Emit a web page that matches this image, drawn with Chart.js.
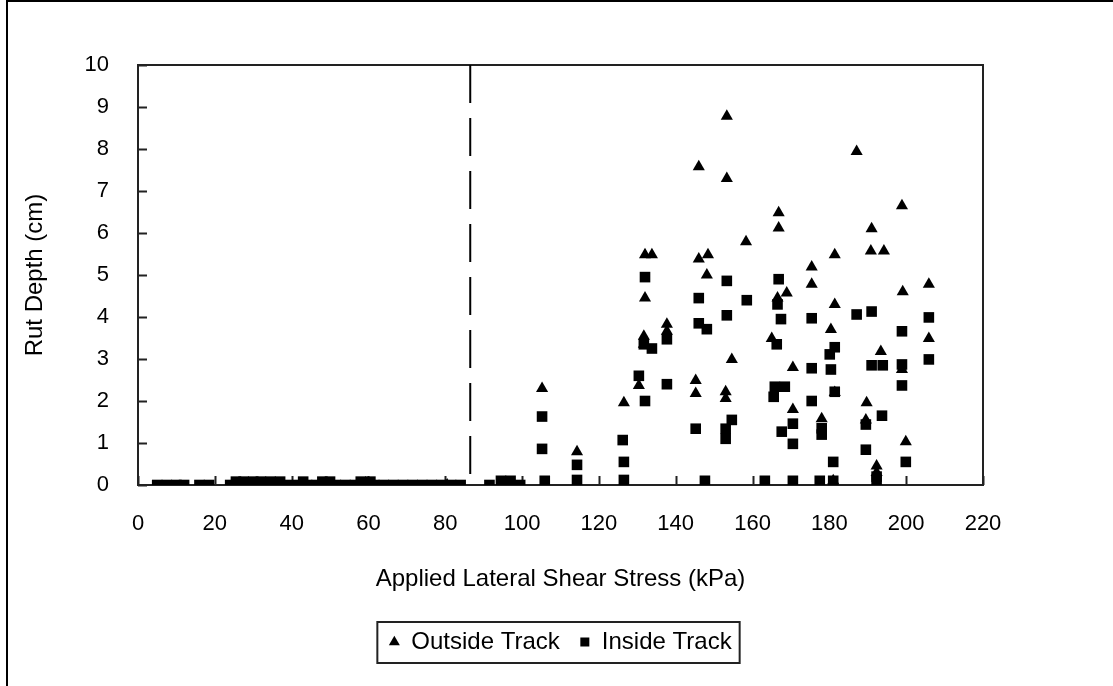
<!DOCTYPE html>
<html>
<head>
<meta charset="utf-8">
<script src="https://cdn.jsdelivr.net/npm/chart.js@4.4.1/dist/chart.umd.min.js"></script>
<style>
  html, body { margin: 0; padding: 0; background: #fff; overflow: hidden; }
  #wrap { position: relative; width: 1113px; height: 686px; }
  #frame { position: absolute; left: 6px; top: 0px; width: 1200px; height: 800px;
           border-left: 2px solid #000; border-top: 2px solid #000; pointer-events: none; }
</style>
</head>
<body>
<div id="wrap">
  <canvas id="grafico" width="1113" height="686"></canvas>
  <div id="frame"></div>
</div>
<script>
// Outside Track (triangles)
const outsideStress = [80.5, 105.2, 114.3, 126.5, 130.4,
  132, 133.8, 132, 131.7, 131.7, 137.7, 137.7,
  146, 153.3, 153.3, 146, 148.4, 148.1, 145.2, 145.2, 153, 153, 154.6,
  158.3, 166.8, 166.8, 168.9, 166.5, 165, 170.5, 170.5,
  175.4, 175.4, 181.4, 181.4, 180.4, 181.4, 178, 181,
  187.1, 191, 190.8, 194.2, 193.4, 189.7, 189.5, 192.3, 192.3,
  198.9, 199.1, 198.9, 199.9, 205.9, 205.9];
const outsideRut = [0, 2.3, 0.79, 1.96, 2.37,
  5.48, 5.48, 4.45, 3.54, 3.35, 3.83, 3.66,
  7.58, 8.78, 7.3, 5.38, 5.48, 5.0, 2.49, 2.18, 2.22, 2.06, 2.99,
  5.79, 6.48, 6.12, 4.57, 4.45, 3.49, 2.8, 1.8,
  5.19, 4.78, 5.48, 4.3, 3.7, 2.2, 1.58, 0.1,
  7.94, 6.1, 5.57, 5.57, 3.18, 1.96, 1.55, 0.45, 0.3,
  6.65, 4.6, 2.75, 1.03, 4.78, 3.49];

// Inside Track (squares)
const insideStress = [5, 7.5, 10, 12, 16, 18.5,
  24, 26.5, 29, 31.5, 34, 36.5, 39, 41.5, 44, 46.5, 49, 51.5, 54, 56.5, 59, 61.5,
  64, 66.5, 69, 71.5, 74, 76.5, 79, 81.5, 84,
  25.5, 27.5, 30, 32, 34.5, 37, 43, 48, 50, 58, 60.5,
  91.5, 94.5, 97, 99.5,
  105.2, 105.2, 105.9, 114.3, 114.3, 126.2, 126.5, 126.5,
  130.4, 132, 137.7, 132, 133.8, 131.7, 137.7,
  146, 146, 148.1, 145.2, 147.6,
  153.3, 153.3, 154.6, 153, 153, 158.5, 163.2,
  166.8, 166.5, 167.4, 166.3, 165.8, 168.4, 165.5, 167.6,
  170.5, 170.5, 170.5, 175.4, 175.4, 175.4, 177.5, 178, 178,
  181.4, 180.1, 180.4, 181.4, 181, 181,
  187.1, 191, 191, 193.9, 193.7, 189.5, 189.5, 192.3, 192.3,
  198.9, 198.9, 198.9, 199.9, 205.9, 205.9];
const insideRut = [0, 0, 0, 0, 0, 0,
  0, 0, 0, 0, 0, 0, 0, 0, 0, 0, 0, 0, 0, 0, 0, 0,
  0, 0, 0, 0, 0, 0, 0, 0, 0,
  0.08, 0.08, 0.08, 0.08, 0.08, 0.08, 0.08, 0.08, 0.08, 0.08, 0.08,
  0, 0.1, 0.1, 0,
  1.63, 0.86, 0.1, 0.48, 0.12, 1.07, 0.55, 0.12,
  2.6, 2.0, 2.4, 4.95, 3.25, 3.35, 3.47,
  4.45, 3.85, 3.71, 1.34, 0.1,
  4.86, 4.04, 1.55, 1.34, 1.1, 4.4, 0.1,
  4.9, 4.3, 3.95, 3.35, 2.34, 2.34, 2.1, 1.27,
  1.46, 0.98, 0.1, 3.97, 2.78, 2.0, 0.1, 1.35, 1.2,
  3.28, 3.11, 2.75, 2.22, 0.55, 0.1,
  4.06, 4.13, 2.85, 2.85, 1.65, 1.44, 0.84, 0.2, 0.1,
  3.66, 2.87, 2.37, 0.55, 3.99, 2.99];

// dashed divider line
const dividerStress = 86.5;
const rutRange = [10, 0];

const fonte = { family: '"Liberation Sans", Arial, sans-serif', size: 22 };
const fonteTitulo = { family: '"Liberation Sans", Arial, sans-serif', size: 24 };

function pontos(xs, ys) {
  return xs.map((x, i) => ({ x: x, y: ys[i] }));
}

// frame around the plot area and inside tick marks
const molduraPlugin = {
  id: 'moldura',
  beforeDatasetsDraw(chart) {
    const ctx = chart.ctx;
    const a = chart.chartArea;
    ctx.save();
    ctx.strokeStyle = '#222';
    ctx.lineWidth = 2;
    ctx.strokeRect(a.left, a.top, a.right - a.left, a.bottom - a.top);
    ctx.beginPath();
    chart.scales.x.ticks.forEach(t => {
      const px = Math.round(chart.scales.x.getPixelForValue(t.value)) + 0.5;
      ctx.moveTo(px, a.bottom);
      ctx.lineTo(px, a.bottom - 9);
    });
    chart.scales.y.ticks.forEach(t => {
      const py = Math.round(chart.scales.y.getPixelForValue(t.value)) + 0.5;
      ctx.moveTo(a.left, py);
      ctx.lineTo(a.left + 9, py);
    });
    ctx.stroke();
    ctx.restore();
  },
  afterDraw(chart) {
    const boxes = chart.legend.legendHitBoxes;
    if (!boxes || !boxes.length) return;
    const ctx = chart.ctx;
    let l = Infinity, r = -Infinity, cy = boxes[0].top + boxes[0].height / 2;
    boxes.forEach(b => { l = Math.min(l, b.left); r = Math.max(r, b.left + b.width); });
    ctx.save();
    ctx.strokeStyle = '#222';
    ctx.lineWidth = 2;
    ctx.strokeRect(l - 12, cy - 20, r - l + 20, 41);
    ctx.restore();
  }
};

new Chart(document.getElementById('grafico').getContext('2d'), {
  type: 'scatter',
  data: {
    datasets: [
      {
        label: 'Outside Track',
        data: pontos(outsideStress, outsideRut),
        pointStyle: 'triangle',
        pointRadius: 7,
        backgroundColor: '#000',
        borderColor: '#000',
        borderWidth: 0
      },
      {
        label: 'Inside Track',
        data: pontos(insideStress, insideRut),
        pointStyle: 'rect',
        pointRadius: 7.5,
        backgroundColor: '#000',
        borderColor: '#000',
        borderWidth: 0
      },
      {
        type: 'line',
        label: '',
        data: rutRange.map(v => ({ x: dividerStress, y: v })),
        borderColor: '#000',
        borderWidth: 2,
        borderDash: [38, 15],
        pointRadius: 0,
        fill: false
      }
    ]
  },
  options: {
    responsive: false,
    animation: false,
    layout: { padding: { left: 0, top: 65, right: 130, bottom: 22 } },
    scales: {
      x: {
        min: 0, max: 220,
        ticks: { stepSize: 20, color: '#000', font: fonte, padding: 18, maxRotation: 0 },
        grid: { display: false },
        border: { display: false },
        title: { display: true, text: 'Applied Lateral Shear Stress (kPa)', color: '#000', font: fonteTitulo, padding: { top: 0, bottom: 16 } },
        afterFit: s => { s.height = 125; }
      },
      y: {
        min: 0, max: 10,
        ticks: { stepSize: 1, color: '#000', font: fonte, padding: 21 },
        grid: { display: false },
        border: { display: false },
        title: { display: true, text: 'Rut Depth (cm)', color: '#000', font: fonteTitulo, padding: { top: 21, bottom: 0 } },
        afterFit: s => { s.width = 138; }
      }
    },
    plugins: {
      legend: {
        position: 'bottom',
        fullSize: false,
        labels: {
          color: '#000',
          font: fonteTitulo,
          usePointStyle: true,
          boxHeight: 9,
          boxWidth: 10,
          padding: 20,
          filter: item => item.datasetIndex < 2
        }
      },
      tooltip: { enabled: false }
    }
  },
  plugins: [molduraPlugin]
});
</script>
</body>
</html>
